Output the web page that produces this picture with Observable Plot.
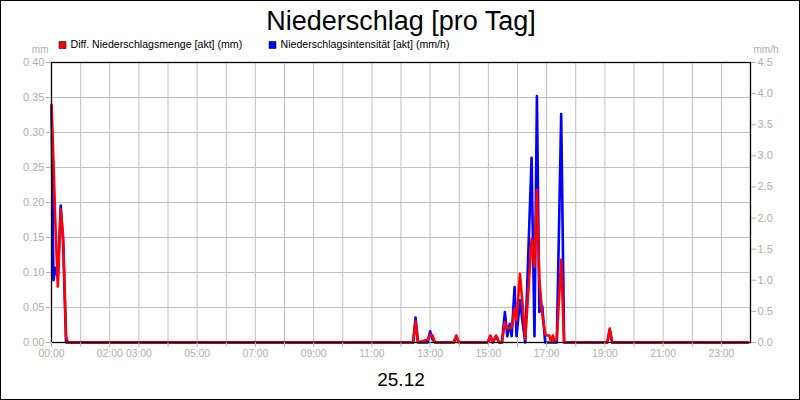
<!DOCTYPE html>
<html>
<head>
<meta charset="utf-8">
<script src="https://cdn.jsdelivr.net/npm/d3@7"></script>
<script src="https://cdn.jsdelivr.net/npm/@observablehq/plot@0.6"></script>
<style>
  html, body { margin: 0; padding: 0; background: #fff; }
  #wrap { position: relative; width: 800px; height: 400px; overflow: hidden; }
  #wrap svg { display: block; }
  #border { position: absolute; left: 0; top: 0; width: 800px; height: 400px; box-sizing: border-box; border: 1px solid #000; pointer-events: none; }
</style>
</head>
<body>
<div id="wrap"><div id="border"></div></div>
<script>
// ---- data ----
const times = ["00:00","00:04","00:08","00:13","00:19","00:24","00:30","00:34",
  "12:25","12:30","12:35",
  "12:55","13:00","13:05","13:10",
  "13:49","13:54","13:59",
  "14:59","15:04","15:09","15:16","15:22",
  "15:28","15:34","15:39","15:44","15:48","15:54","15:58","16:05","16:11","16:16","16:22","16:29",
  "16:35","16:40","16:45","16:51","16:57","17:01","17:06","17:09","17:13","17:16","17:21","17:30","17:36",
  "19:05","19:10","19:15",
  "23:55"];
const mengeMm = [0.34,0.26,0.17,0.08,0.19,0.15,0.008,0,
  0,0.03,0,
  0.004,0.011,0.01,0,
  0,0.01,0,
  0,0.01,0,0.01,0,
  0,0.029,0.02,0.021,0.021,0.049,0.031,0.098,0.05,0.005,0.07,0.148,
  0.108,0.218,0.089,0.041,0.012,0.01,0.01,0.001,0.01,0.001,0.005,0.118,0,
  0,0.02,0,
  0];
const intensitaetMmH = [3.8,1.0,1.2,1.05,2.2,1.6,0,0,
  0,0.4,0,
  0,0.18,0.05,0,
  0,0.1,0,
  0,0.1,0,0.1,0,
  0,0.49,0.1,0.3,0.1,0.89,0.1,0.68,0.3,0,1.37,2.97,
  0.1,3.96,0.49,0.58,0,0,0,0,0,0,0,3.67,0,
  0,0.2,0,
  0];
const leftTicks = [0,0.05,0.10,0.15,0.20,0.25,0.30,0.35,0.40];
const rightTicks = [0,0.5,1.0,1.5,2.0,2.5,3.0,3.5,4.0,4.5];
const xTickHours = [0,2,3,5,7,9,11,13,15,17,19,21,23];
const xTickLabels = ["00:00","02:00","03:00","05:00","07:00","09:00","11:00","13:00","15:00","17:00","19:00","21:00","23:00"];
const title = "Niederschlag [pro Tag]";
const dateLabel = "25.12";
const seriesNames = ["Diff. Niederschlagsmenge [akt] (mm)", "Niederschlagsintensität [akt] (mm/h)"];
const seriesColors = ["#ff0000", "#0000ff"];

// ---- build ----
const leftMax = 0.4, rightMax = 4.5, k = leftMax / rightMax;
const toHours = s => { const [h, m] = s.split(":").map(Number); return h + m / 60; };
const rows = times.map((t, i) => ({ h: toHours(t), mm: mengeMm[i], mmh: intensitaetMmH[i] }));
const labelMap = new Map(xTickHours.map((h, i) => [h, xTickLabels[i]]));
const gray = "#b0b0b0";
const grid = "#c0c0c0";

const chart = Plot.plot({
  width: 800,
  height: 400,
  marginLeft: 51,
  marginRight: 50,
  marginTop: 62,
  marginBottom: 58,
  style: { fontFamily: "'Liberation Sans', Arial, sans-serif", fontSize: "11px", background: "#fff", color: "#000" },
  x: { domain: [0, 24] },
  y: { domain: [0, leftMax] },
  marks: [
    Plot.gridX(d3.range(0, 24), { stroke: grid, strokeOpacity: 1 }),
    Plot.gridY(leftTicks, { stroke: grid, strokeOpacity: 1 }),
    Plot.line(rows, { x: "h", y: d => d.mmh * k, stroke: seriesColors[1], strokeWidth: 2.6 }),
    Plot.line(rows, { x: "h", y: "mm", stroke: seriesColors[0], strokeWidth: 2.6 }),
    Plot.frame({ stroke: "#000", strokeWidth: 1.3 }),
    Plot.axisY(leftTicks, { anchor: "left", tickFormat: d => d.toFixed(2), tickSize: 5, tickPadding: 2, color: gray, label: null }),
    Plot.axisY(rightTicks.map(v => v * k), { anchor: "right", tickFormat: d => (d / k).toFixed(1), tickSize: 5, tickPadding: 2, color: gray, label: null }),
    Plot.axisX(d3.range(0, 24), { anchor: "bottom", tickFormat: d => labelMap.get(d) ?? "", tickSize: 5, tickPadding: 2, color: gray, label: null, fontSize: 10.4 }),
    // title & texts
    Plot.text([title], { frameAnchor: "top", text: d => d, dy: -33, lineAnchor: "bottom", fontSize: 27, fill: "#000" }),
    Plot.text([dateLabel], { frameAnchor: "bottom", text: d => d, dy: 43, lineAnchor: "bottom", fontSize: 19, fill: "#000" }),
    Plot.text(["mm"], { frameAnchor: "top-left", text: d => d, dx: -3, dy: -10, textAnchor: "end", lineAnchor: "bottom", fontSize: 10, fill: gray }),
    Plot.text(["mm/h"], { frameAnchor: "top-right", text: d => d, dx: 3, dy: -10, textAnchor: "start", lineAnchor: "bottom", fontSize: 10, fill: gray }),
    // legend
    Plot.dot([0], { frameAnchor: "top-left", dx: 11, dy: -17.5, symbol: "square", r: 3.9, fill: seriesColors[0], stroke: "#000", strokeWidth: 0.6 }),
    Plot.text([seriesNames[0]], { frameAnchor: "top-left", text: d => d, dx: 19, dy: -15, textAnchor: "start", lineAnchor: "bottom", fontSize: 10.6, fill: "#000" }),
    Plot.dot([0], { frameAnchor: "top-left", dx: 221, dy: -17.5, symbol: "square", r: 3.9, fill: seriesColors[1], stroke: "#000", strokeWidth: 0.6 }),
    Plot.text([seriesNames[1]], { frameAnchor: "top-left", text: d => d, dx: 229, dy: -15, textAnchor: "start", lineAnchor: "bottom", fontSize: 10.6, fill: "#000" })
  ]
});
document.getElementById("wrap").prepend(chart);
</script>
</body>
</html>
